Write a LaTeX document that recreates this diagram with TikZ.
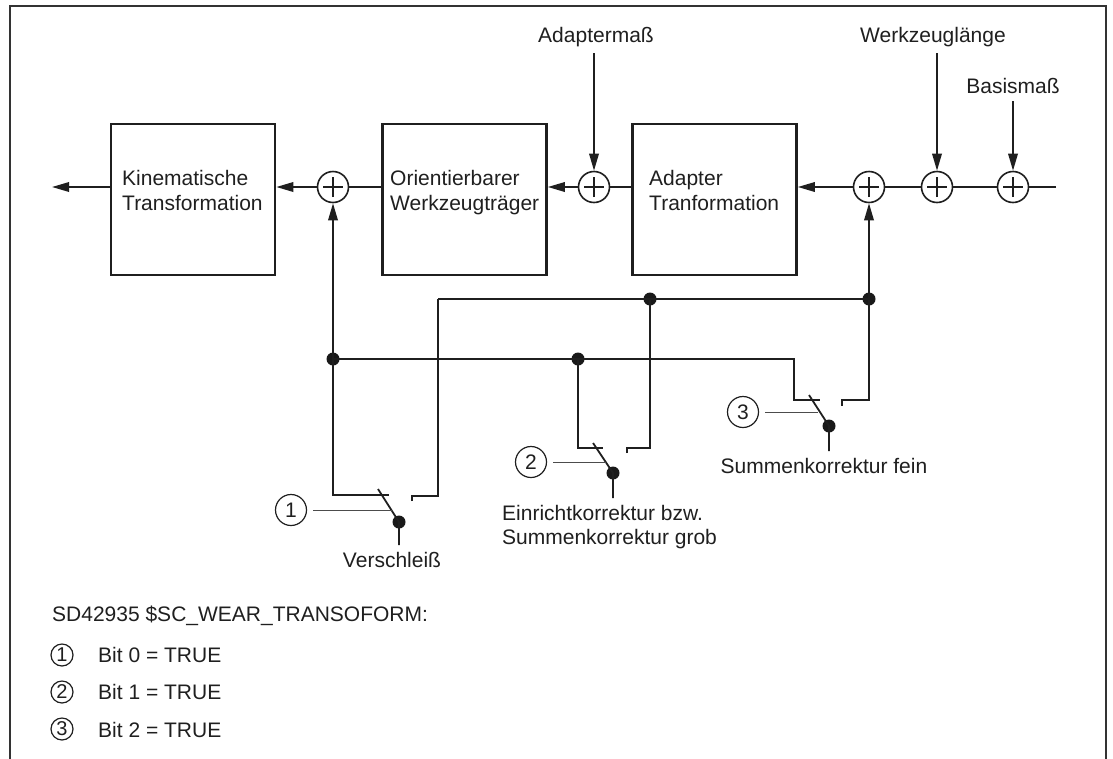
\documentclass[tikz,border=0pt]{standalone}
\usepackage{fontspec}
\setmainfont{Liberation Sans}
\usetikzlibrary{arrows.meta}
\begin{document}
\begin{tikzpicture}[x=1pt,y=-1pt,
  wire/.style={line width=1.8pt, draw=black!88},
  arr/.style={-{Triangle[length=17pt,width=9.5pt]}},
  blk/.style={draw=black!88, line width=2.6pt, minimum width=164pt, minimum height=151pt, inner sep=0pt},
  sumc/.style={draw=black!88, circle, line width=1.6pt, minimum size=31pt, inner sep=0pt,
    path picture={\draw[line width=1.3pt,black!88] ([xshift=-10pt]path picture bounding box.center) -- ([xshift=10pt]path picture bounding box.center);
                  \draw[line width=1.3pt,black!88] ([yshift=-10pt]path picture bounding box.center) -- ([yshift=10pt]path picture bounding box.center);}},
  jdot/.style={circle, fill=black!90, inner sep=0pt, minimum size=13pt},
  lab/.style={draw=black!88, circle, line width=1.2pt, minimum size=31pt, inner sep=0pt, text=black!88, font=\fontsize{21}{25}\selectfont},
  leg/.style={draw=black!88, circle, line width=1.2pt, minimum size=22pt, inner sep=0pt, text=black!88, font=\fontsize{20}{24}\selectfont},
  leader/.style={line width=1pt, draw=black!70},
  txt/.style={inner sep=0pt, text=black!88, font=\fontsize{21}{25}\selectfont},
  frame/.style={line width=2pt, draw=black!80}
]
\useasboundingbox (0,0) rectangle (1113,758);
% frame
\draw[frame] (10,760) -- (10,6) -- (1106,6) -- (1106,760);

% blocks
\node[blk] (b1) at (193,199.5) {};
\node[blk] (b2) at (464.5,199.5) {};
\node[blk] (b3) at (714.5,199.5) {};
\node[txt, anchor=base west] (t1a) at (122,185) {Kinematische};
\node[txt, anchor=base west] (t1b) at (122,210) {Transformation};
\node[txt, anchor=base west] (t2a) at (390,185) {Orientierbarer};
\node[txt, anchor=base west] (t2b) at (390,210) {Werkzeugträger};
\node[txt, anchor=base west] (t3a) at (649,185) {Adapter};
\node[txt, anchor=base west] (t3b) at (649,210) {Tranformation};

% summing points
\node[sumc] (s1) at (333,187) {};
\node[sumc] (s2) at (594,187) {};
\node[sumc] (s4) at (869,187) {};
\node[sumc] (s5) at (937,187) {};
\node[sumc] (s6) at (1013,187) {};
\coordinate (out) at (52,187);
\coordinate (in) at (1056,187);

% main chain
\draw[wire] (in) -- (s6.east);
\draw[wire] (s6.west) -- (s5.east);
\draw[wire] (s5.west) -- (s4.east);
\draw[wire,arr] (s4.west) -- (s4.west -| b3.east);
\draw[wire] (s2.east -| b3.west) -- (s2.east);
\draw[wire,arr] (s2.west) -- (s2.west -| b2.east);
\draw[wire] (s1.east -| b2.west) -- (s1.east);
\draw[wire,arr] (s1.west) -- (s1.west -| b1.east);
\draw[wire,arr] (s1.west -| b1.west) -- (out);

% inputs
\node[txt, anchor=base] (tA) at (596,42) {Adaptermaß};
\node[txt, anchor=base] (tW) at (933,42) {Werkzeuglänge};
\node[txt, anchor=base] (tB) at (1013,93) {Basismaß};
\coordinate (aA) at (594,53);
\coordinate (aW) at (937,53);
\coordinate (aB) at (1013,101);
\draw[wire,arr] (aA) -- (s2.north);
\draw[wire,arr] (aW) -- (s5.north);
\draw[wire,arr] (aB) -- (s6.north);

% junctions
\node[jdot] (j1) at (333,359) {};
\node[jdot] (j2) at (578,359) {};
\node[jdot] (j3) at (650,299) {};
\node[jdot] (j4) at (869,299) {};

% feedback to summing points
\draw[wire,arr] (j1.center) -- (s1.south);
\draw[wire,arr] (j4.center) -- (s4.south);

% upper wire
\coordinate (u0) at (438,299);
\draw[wire] (u0) -- (j3.center) -- (j4.center);

% switch 1 (Verschleiss)
\coordinate (w1a) at (389,495);
\coordinate (w1c) at (333,495);
\coordinate (w1b) at (412,501);
\coordinate (w1d) at (412,496);
\coordinate (w1e) at (438,496);
\coordinate (k1) at (378,489);
\node[jdot] (d1) at (399,522) {};
\coordinate (e1) at (399,545);
\draw[wire] (j1.center) -- (w1c) -- (w1a);
\draw[wire] (w1b) -- (w1d) -- (w1e) -- (u0);
\draw[wire] (k1) -- (d1.center) -- (e1);
\node[lab] (L1) at (291,510) {1};
\coordinate (L1e) at (393,510);
\draw[leader] ([xshift=6pt]L1.east) -- (L1e);
\node[txt, anchor=base] (V) at (392,567) {Verschleiß};

% lower wire
\coordinate (w3a) at (794,359);
\coordinate (w3b) at (794,400);
\coordinate (w3c) at (820,400);
\draw[wire] (j1.center) -- (j2.center) -- (w3a) -- (w3b) -- (w3c);

% switch 2
\coordinate (w2a) at (578,448);
\coordinate (w2b) at (603,448);
\coordinate (w2c) at (627,453);
\coordinate (w2d) at (627,448);
\coordinate (w2e) at (650,448);
\coordinate (k2) at (593,443);
\node[jdot] (d2) at (613,473) {};
\coordinate (e2) at (613,498);
\draw[wire] (j2.center) -- (w2a) -- (w2b);
\draw[wire] (w2c) -- (w2d) -- (w2e) -- (j3.center);
\draw[wire] (k2) -- (d2.center) -- (e2);
\node[lab] (L2) at (531,462) {2};
\coordinate (L2e) at (606,462);
\draw[leader] ([xshift=6pt]L2.east) -- (L2e);
\node[txt, anchor=base west] (E1) at (502,520) {Einrichtkorrektur bzw.};
\node[txt, anchor=base west] (E2) at (502,544) {Summenkorrektur grob};

% switch 3
\coordinate (w4a) at (869,400);
\coordinate (w4b) at (842,400);
\coordinate (w4c) at (842,406);
\coordinate (k3) at (809,395);
\node[jdot] (d3) at (829,426) {};
\coordinate (e3) at (829,451);
\draw[wire] (j4.center) -- (w4a) -- (w4b) -- (w4c);
\draw[wire] (k3) -- (d3.center) -- (e3);
\node[lab] (L3) at (743,412) {3};
\coordinate (L3e) at (818,412);
\draw[leader] ([xshift=6pt]L3.east) -- (L3e);
\node[txt, anchor=base] (F) at (824,473) {Summenkorrektur fein};

% legend
\node[txt, anchor=base west] (sd) at (52,621) {SD42935 \$SC\_WEAR\_TRANSOFORM:};
\node[leg] (g1) at (62,655) {1};
\node[leg] (g2) at (62,692) {2};
\node[leg] (g3) at (62,729) {3};
\node[txt, anchor=base west] (b0) at (98,662) {Bit 0 = TRUE};
\node[txt, anchor=base west] (bb1) at (98,699) {Bit 1 = TRUE};
\node[txt, anchor=base west] (bb2) at (98,737) {Bit 2 = TRUE};
\end{tikzpicture}
\end{document}
